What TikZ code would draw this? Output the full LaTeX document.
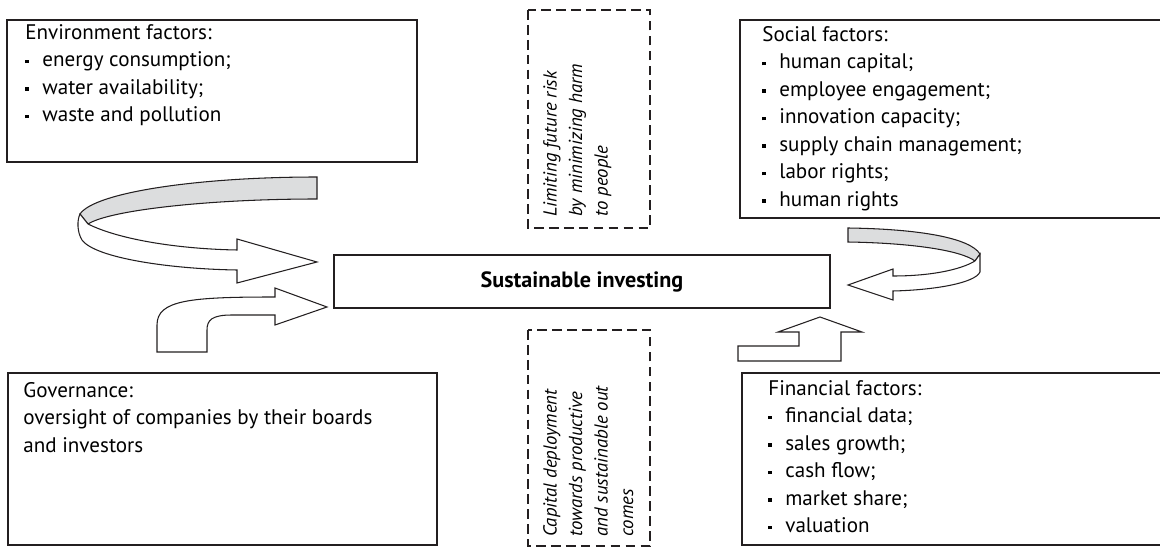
\documentclass[tikz,border=0pt]{standalone}
\usepackage{fontspec}
\setmainfont{PT Sans}
\usepackage{xcolor}
\usepackage{tikz}

\definecolor{boxline}{HTML}{231F20}
\definecolor{bandgray}{HTML}{DCDDDE}
\newcommand{\sqb}{\makebox[0.34cm][l]{\rule[0.17em]{0.17em}{0.17em}}}

\begin{document}
\begin{tikzpicture}[x=0.02cm, y=-0.02cm,
        factorbox/.style={draw=boxline, line width=1.1pt},
        dashbox/.style={draw=boxline, line width=1.2pt, dash pattern=on 5.5pt off 3pt},
        listtext/.style={anchor=north west, inner sep=0pt, align=left, font=\fontsize{12}{15.65}\selectfont},
        sidetext/.style={anchor=north west, inner sep=0pt, align=left, rotate=90, font=\itshape\fontsize{10.7}{14.5}\selectfont},
        bigarrow/.style={draw=boxline, line width=0.6pt, fill=white},
        backband/.style={draw=boxline, line width=0.6pt, fill=bandgray}]
        \useasboundingbox (0,0) rectangle (1160,547);

        \draw[factorbox] (7,20) rectangle (417,162);
        \node[listtext] (envtxt) at (25,24) {Environment factors:\\ \sqb energy consumption;\\ \sqb water availability;\\ \sqb waste and pollution};
        \draw[factorbox] (740,20) rectangle (1163,218);
        \node[listtext] (soctxt) at (762,26) {Social factors:\\ \sqb human capital;\\ \sqb employee engagement;\\ \sqb innovation capacity;\\ \sqb supply chain management;\\ \sqb labor rights;\\ \sqb human rights};
        \draw[factorbox] (8,373) rectangle (437,545);
        \node[listtext] (govtxt) at (23,382) {Governance:\\ oversight of companies by their boards\\ and investors};
        \draw[factorbox] (742,373) rectangle (1163,545);
        \node[listtext] (fintxt) at (768,380) {Financial factors:\\ \sqb financial data;\\ \sqb sales growth;\\ \sqb cash flow;\\ \sqb market share;\\ \sqb valuation};

        \draw[dashbox] (528,10) rectangle (650,228);
        \node[sidetext] (risktxt) at (543,217) {Limiting future risk\\ by minimizing harm\\ to people};
        \draw[dashbox] (528,330) rectangle (650,546);
        \node[sidetext] (captxt) at (543,537) {Capital deployment\\ towards productive\\ and sustainable out\\ comes};

        \node[factorbox, minimum width=9.92cm, minimum height=1.06cm, inner sep=0pt, font=\fontsize{12.6}{15}\selectfont\bfseries] (sust) at (582,281.5) {Sustainable investing};

        \draw[backband] (317,177) .. controls (200,177) and (95,192) .. (80,214) -- (88,224) .. controls (110,210) and (210,199) .. (317,199) -- cycle;
        \draw[bigarrow] (88,224) .. controls (120,240) and (180,249) .. (237,250) -- (237,239) -- (317,262) -- (237,283) -- (237,270) .. controls (170,269) and (95,258) .. (82,240) .. controls (77,232) and (77,220) .. (80,214) -- cycle;
        \draw[bigarrow] (157,352) -- (157,325) .. controls (157,300) and (190,297) .. (275,297) -- (275,288) -- (327,307) -- (275,325) -- (275,315) -- (232,315) .. controls (212,315) and (207,320) .. (207,330) -- (207,352) -- cycle;

        \draw[backband] (848,228) .. controls (920,229) and (970,238) .. (980,254) -- (975,261) .. controls (960,250) and (910,243) .. (848,242) -- cycle;
        \draw[bigarrow] (975,261) .. controls (960,270) and (930,276) .. (893,276) -- (893,269) -- (848,285) -- (893,300) -- (893,291) .. controls (935,290) and (975,283) .. (980,272) -- (980,254) -- cycle;
        \draw[bigarrow] (738,346) -- (799,346) -- (799,332) -- (778,332) -- (820,317) -- (862,332) -- (841,332) -- (841,361) -- (738,361) -- cycle;
    \end{tikzpicture}
\end{document}
